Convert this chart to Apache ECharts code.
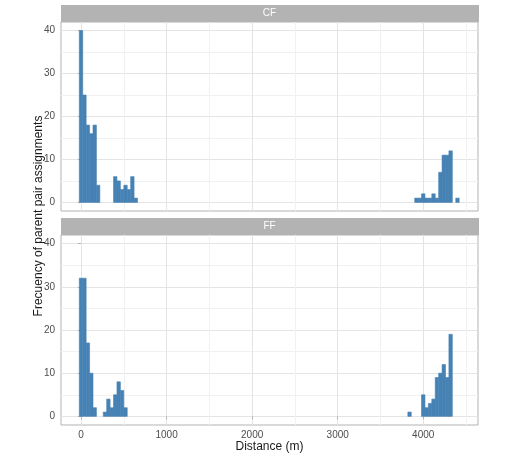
<!DOCTYPE html>
<html>
<head>
<meta charset="utf-8">
<script src="https://cdn.jsdelivr.net/npm/echarts@6/dist/echarts.min.js"></script>
<style>
html, body { margin: 0; padding: 0; background: #fff; }
#chart { width: 528px; height: 458px; }
</style>
</head>
<body>
<div id="chart"></div>
<script>
// histogram bins (centre of bin, metres) and counts per facet
var binWidth = 40;
var cfDistance = [0, 40, 80, 120, 160, 200,
                  400, 440, 480, 520, 560, 600, 640,
                  3920, 3960, 4000, 4040, 4080, 4120, 4160, 4200, 4240, 4280, 4320, 4400];
var cfCount    = [40, 25, 18, 16, 18, 4,
                  6, 5, 3, 4, 3, 6, 1,
                  1, 1, 2, 1, 1, 2, 1, 7, 11, 11, 12, 1];
var ffDistance = [0, 40, 80, 120, 160,
                  280, 320, 360, 400, 440, 480, 520,
                  3840, 4000, 4040, 4080, 4120, 4160, 4200, 4240, 4280, 4320];
var ffCount    = [32, 32, 17, 10, 2,
                  1, 4, 2, 5, 8, 6, 2,
                  1, 5, 2, 3, 4, 9, 10, 12, 9, 19];

var panelNames = ['CF', 'FF'];
var xMajor = [0, 1000, 2000, 3000, 4000];
var xMinor = [500, 1500, 2500, 3500, 4500];
var yMajor = [0, 10, 20, 30, 40];
var yMinor = [5, 15, 25, 35];

var FONT = 'Liberation Sans';
var BAR = '#4682b4';
var panelLeft = 61, panelWidth = 417;
var panels = [
    {top: 22, height: 189, strip: 5},
    {top: 235, height: 190, strip: 218}
];

function pairs(xs, ys) {
    return xs.map(function (x, i) { return [x, ys[i]]; });
}

function plain(v) { return String(v); }

function renderBin(params, api) {
    var x = api.value(0), n = api.value(1);
    var p0 = api.coord([x - binWidth / 2, n]);
    var p1 = api.coord([x + binWidth / 2, 0]);
    return {
        type: 'rect',
        shape: {x: p0[0], y: p0[1], width: p1[0] - p0[0], height: p1[1] - p0[1]},
        style: {fill: BAR, stroke: BAR, lineWidth: 0.6}
    };
}

var grids = [], xAxes = [], yAxes = [], graphics = [];
panels.forEach(function (p, i) {
    grids.push({left: panelLeft, width: panelWidth, top: p.top, height: p.height,
        show: true, backgroundColor: '#fff', borderColor: '#b3b3b3', borderWidth: 1});
    // major x
    xAxes.push({type: 'value', gridIndex: i, min: -234, max: 4640,
        axisLine: {show: false},
        axisTick: {show: i === 1, length: 3, lineStyle: {color: '#b3b3b3'}, customValues: xMajor},
        axisLabel: {show: i === 1, customValues: xMajor, formatter: plain, margin: 5,
            color: '#4d4d4d', fontSize: 10, fontFamily: FONT},
        splitLine: {show: true, lineStyle: {color: '#e4e4e4', width: 1}}});
    // minor x
    xAxes.push({type: 'value', gridIndex: i, min: -234, max: 4640,
        axisLine: {show: false}, axisLabel: {show: false},
        axisTick: {show: false, customValues: xMinor},
        splitLine: {show: true, lineStyle: {color: '#f1f1f1', width: 1}}});
    yAxes.push({type: 'value', gridIndex: i, min: -2, max: 42,
        axisLine: {show: false},
        axisTick: {show: true, length: 3, lineStyle: {color: '#b3b3b3'}, customValues: yMajor},
        axisLabel: {customValues: yMajor, formatter: plain, margin: 6,
            color: '#4d4d4d', fontSize: 10, fontFamily: FONT},
        splitLine: {show: true, lineStyle: {color: '#e4e4e4', width: 1}}});
    yAxes.push({type: 'value', gridIndex: i, min: -2, max: 42,
        axisLine: {show: false}, axisLabel: {show: false},
        axisTick: {show: false, customValues: yMinor},
        splitLine: {show: true, lineStyle: {color: '#f1f1f1', width: 1}}});
    graphics.push({type: 'rect', left: panelLeft, top: p.strip,
        shape: {width: panelWidth + 1, height: 17}, style: {fill: '#b3b3b3'}});
    graphics.push({type: 'text', x: panelLeft + panelWidth / 2, y: p.strip + 8.5,
        style: {text: panelNames[i], fill: '#fff', fontSize: 10, fontFamily: FONT,
            align: 'center', verticalAlign: 'middle'}});
});

graphics.push({type: 'text', x: panelLeft + panelWidth / 2, y: 447,
    style: {text: 'Distance (m)', fill: '#1a1a1a', fontSize: 12, fontFamily: FONT,
        align: 'center', verticalAlign: 'middle'}});
graphics.push({type: 'text', x: 39, y: 216, rotation: Math.PI / 2,
    style: {text: 'Frecuency of parent pair assignments', fill: '#1a1a1a', fontSize: 12, fontFamily: FONT,
        align: 'center', verticalAlign: 'middle'}});

var chart = echarts.init(document.getElementById('chart'), null, {renderer: 'canvas'});
chart.setOption({
    animation: false,
    grid: grids,
    xAxis: xAxes,
    yAxis: yAxes,
    graphic: graphics,
    series: [
        {type: 'custom', xAxisIndex: 0, yAxisIndex: 0, renderItem: renderBin,
            encode: {x: 0, y: 1}, data: pairs(cfDistance, cfCount)},
        {type: 'custom', xAxisIndex: 2, yAxisIndex: 2, renderItem: renderBin,
            encode: {x: 0, y: 1}, data: pairs(ffDistance, ffCount)}
    ]
});
</script>
</body>
</html>
